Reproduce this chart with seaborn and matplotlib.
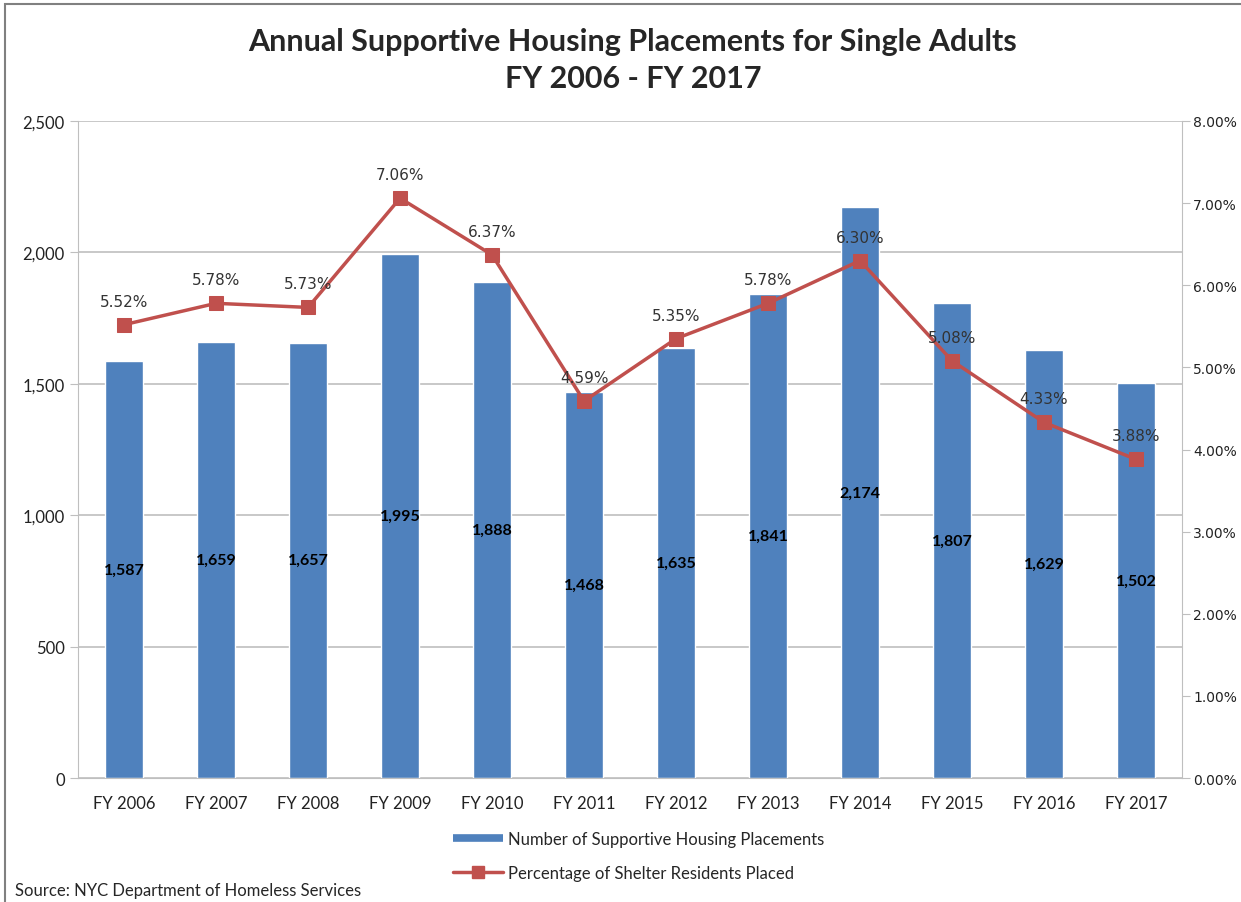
import numpy as np
import pandas as pd
import matplotlib
matplotlib.use("Agg")
import matplotlib.pyplot as plt
import matplotlib.ticker as mticker
from matplotlib.patches import Rectangle
import seaborn as sns

# data
years = ["FY 2006", "FY 2007", "FY 2008", "FY 2009", "FY 2010", "FY 2011",
         "FY 2012", "FY 2013", "FY 2014", "FY 2015", "FY 2016", "FY 2017"]
placements = [1587, 1659, 1657, 1995, 1888, 1468, 1635, 1841, 2174, 1807, 1629, 1502]
pct_placed = [5.52, 5.78, 5.73, 7.06, 6.37, 4.59, 5.35, 5.78, 6.30, 5.08, 4.33, 3.88]

bar_color = "#4F81BD"
line_color = "#C0504D"
grid_color = "#BFBFBF"

sns.set_style("white")
plt.rcParams["font.family"] = ["Lato", "DejaVu Sans"]

df = pd.DataFrame({"year": years, "count": placements, "pct": pct_placed})
df["pos"] = np.arange(len(df))

fig = plt.figure(figsize=(12.41, 9.03), dpi=100)
ax = fig.add_axes([0.0629, 0.1373, 0.8896, 0.7276])

sns.barplot(data=df, x="year", y="count", color=bar_color, width=0.41,
            saturation=1, ax=ax, zorder=2)
ax.set_ylim(0, 2500)
ax.set_xlim(-0.5, len(years) - 0.5)
ax.yaxis.set_major_locator(mticker.MultipleLocator(500))
ax.yaxis.set_major_formatter(mticker.FuncFormatter(lambda v, p: f"{int(v):,}"))
ax.grid(axis="y", color=grid_color, lw=1.2, zorder=0)
ax.set_axisbelow(True)
ax.set_xlabel("")
ax.set_ylabel("")
ax.tick_params(axis="both", labelsize=12, colors="#222222", length=6, color=grid_color)
ax.tick_params(axis="x", pad=12)
ax.set_xticks(np.arange(len(years)) + 0.5, minor=True)
ax.tick_params(axis="x", which="major", length=0)
ax.tick_params(axis="x", which="minor", length=6, color=grid_color)
for s in ["left", "bottom"]:
    ax.spines[s].set_color(grid_color)
ax.spines["top"].set_visible(False)
ax.spines["right"].set_visible(False)

# value labels in middle of bars
for i, v in enumerate(placements):
    ax.text(i, v / 2, f"{v:,}", ha="center", va="center", fontsize=11.5,
            fontweight="bold", color="black", zorder=5)

ax2 = ax.twinx()
sns.lineplot(data=df, x="pos", y="pct", color=line_color, marker="s",
             markersize=10, markeredgecolor=line_color, lw=2.5, ax=ax2,
             zorder=4)
ax2.set_ylim(0, 8)
ax2.set_xlim(-0.5, len(years) - 0.5)
ax2.yaxis.set_major_locator(mticker.MultipleLocator(1))
ax2.yaxis.set_major_formatter(mticker.FuncFormatter(lambda v, p: f"{v:.2f}%"))
ax2.set_xlabel("")
ax2.set_ylabel("")
for lab in ax2.get_yticklabels():
    lab.set_family("DejaVu Sans")
ax2.tick_params(axis="y", labelsize=10, colors="#222222", length=6, pad=2,
                color=grid_color)
ax2.spines["right"].set_color(grid_color)
for s in ["left", "top", "bottom"]:
    ax2.spines[s].set_visible(False)

for i, v in enumerate(pct_placed):
    ax2.annotate(f"{v:.2f}%", (i, v), xytext=(0, 17), textcoords="offset points",
                 ha="center", va="center", fontsize=11, color="#333333",
                 family="DejaVu Sans", zorder=6)

fig.text(0.51, 0.953, "Annual Supportive Housing Placements for Single Adults",
         ha="center", va="center", fontsize=22, fontweight="bold")
fig.text(0.51, 0.913, "FY 2006 - FY 2017", ha="center", va="center",
         fontsize=22, fontweight="bold")

handles = [plt.Line2D([], [], color=bar_color, lw=5.5, solid_capstyle="butt"),
           plt.Line2D([], [], color=line_color, lw=2.5, marker="s", markersize=8)]
fig.legend(handles, ["Number of Supportive Housing Placements",
                     "Percentage of Shelter Residents Placed"],
           loc="center", bbox_to_anchor=(0.515, 0.051), frameon=False,
           fontsize=12, labelspacing=1.1, handlelength=3.0, handletextpad=0.3)

fig.text(0.012, 0.004, "Source: NYC Department of Homeless Services",
         ha="left", va="bottom", fontsize=12)

fig.patches.append(Rectangle((0.004, -0.01), 1.0, 1.004, transform=fig.transFigure,
                             fill=False, edgecolor="#808080", lw=1.5))

fig.savefig("out.png", dpi=100)
